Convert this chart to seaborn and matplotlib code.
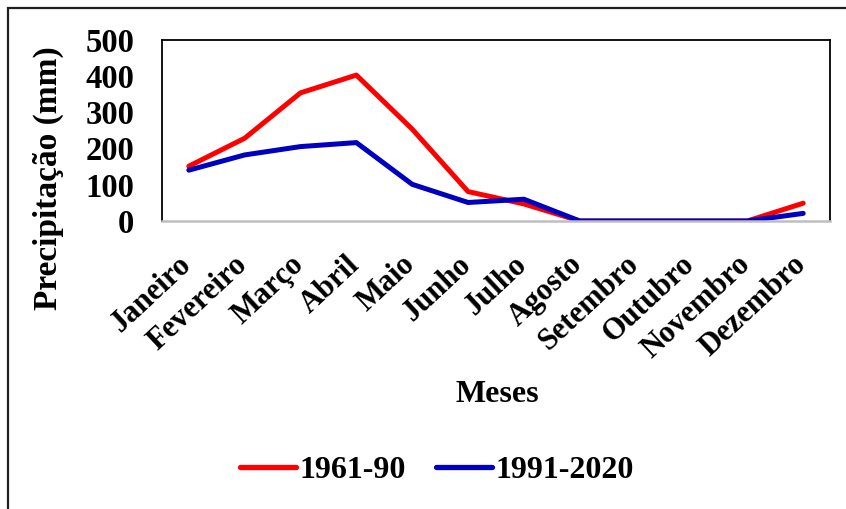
import matplotlib
matplotlib.use("Agg")
import matplotlib.pyplot as plt
import matplotlib.transforms as mtransforms
import seaborn as sns
import pandas as pd
from matplotlib.patches import Rectangle
from matplotlib.lines import Line2D

months = ["Janeiro", "Fevereiro", "Março", "Abril", "Maio", "Junho", "Julho",
          "Agosto", "Setembro", "Outubro", "Novembro", "Dezembro"]
precip_1961_90 = [151, 228, 353, 402, 253, 81, 47, 0, 0, 0, 0, 49]
precip_1991_2020 = [140, 182, 205, 216, 101, 51, 60, 0, 0, 0, 0, 21]
series_names = ["1961-90", "1991-2020"]
colors = ["#FF0000", "#0000C0"]
yticks = [0, 100, 200, 300, 400, 500]

df = pd.DataFrame({
    "mes": list(range(len(months))) * 2,
    "precip": precip_1961_90 + precip_1991_2020,
    "periodo": [series_names[0]] * len(months) + [series_names[1]] * len(months),
})

sns.set_theme(style="white")
plt.rcParams["font.family"] = ["Liberation Serif", "DejaVu Serif"]
plt.rcParams["font.weight"] = "bold"
plt.rcParams["text.color"] = "black"
plt.rcParams["xtick.color"] = "black"
plt.rcParams["ytick.color"] = "black"
plt.rcParams["axes.labelcolor"] = "black"

fig = plt.figure(figsize=(8.46, 5.09), dpi=100)
ax = fig.add_axes([162 / 846, 1 - 221 / 509, (830 - 162) / 846, (221 - 39.5) / 509])

sns.lineplot(data=df, x="mes", y="precip", hue="periodo", palette=colors,
             linewidth=3.6, legend=False, ax=ax, solid_capstyle="round")

ax.set_xlim(-0.48, 11.48)
ax.set_ylim(0, 500)
ax.set_yticks(yticks)
ax.set_yticklabels([str(v) for v in yticks], fontsize=23.5, fontweight="bold")
ax.set_xticks(range(len(months)))
ax.set_xticklabels(months, rotation=43, ha="right", rotation_mode="anchor",
                   fontsize=22, fontweight="bold")
ax.tick_params(axis="both", length=0)
ax.tick_params(axis="x", pad=21)
ax.tick_params(axis="y", pad=20)

# nudge month labels slightly left so they end under their tick
shift = mtransforms.ScaledTranslation(-11 / 100, 0, fig.dpi_scale_trans)
for lbl in ax.get_xticklabels():
    lbl.set_transform(lbl.get_transform() + shift)

for side in ["top", "left", "right"]:
    ax.spines[side].set_color("black")
    ax.spines[side].set_linewidth(1.3)
ax.spines["bottom"].set_color("#BFBFBF")
ax.spines["bottom"].set_linewidth(1.8)

ax.set_ylabel("Precipitação (mm)", fontsize=24, fontweight="bold")
ax.yaxis.set_label_coords(-(162 - 64) / (830 - 162), (221 - 178) / 181.5)
ax.set_xlabel("")
fig.text(497 / 846, 1 - 394 / 509, "Meses", ha="center", va="center",
         fontsize=23, fontweight="bold")

handles = [Line2D([0], [0], color=c, linewidth=3.8, solid_capstyle="round") for c in colors]
fig.legend(handles, series_names, loc="center", bbox_to_anchor=(437 / 846, 1 - 470 / 509),
           ncol=2, frameon=False, handlelength=1.75, handletextpad=0.12,
           columnspacing=0.95, prop={"family": "Liberation Serif", "weight": "bold", "size": 23})

# outer chart border
fig.patches.append(Rectangle((8 / 846, -0.1), 1.2, 1 - 8 / 509 + 0.1,
                             transform=fig.transFigure, fill=False,
                             edgecolor="#202020", linewidth=1.6))

fig.savefig("out.png", dpi=100)
